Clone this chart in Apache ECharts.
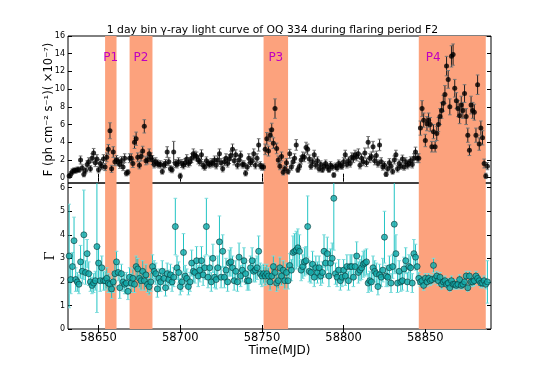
<!DOCTYPE html>
<html>
<head>
<meta charset="utf-8">
<script src="https://cdn.jsdelivr.net/npm/echarts@6/dist/echarts.min.js"></script>
<style>html,body{margin:0;padding:0;background:#fff}#chart{width:545px;height:366px}</style>
</head>
<body>
<div id="chart"></div>
<script>
// daily bins, MJD
var mjd = [
  58632,58633,58634,58635,58636,58637,58638,58639,58640,58641,
  58642,58643,58644,58645,58646,58647,58648,58649,58650,58651,
  58652,58653,58654,58655,58656,58657,58658,58659,58660,58661,
  58662,58663,58664,58665,58666,58667,58668,58669,58670,58671,
  58672,58673,58674,58675,58676,58677,58678,58679,58680,58681,
  58682,58683,58684,58685,58686,58687,58688,58689,58690,58691,
  58692,58693,58694,58695,58696,58697,58698,58699,58700,58701,
  58702,58703,58704,58705,58706,58707,58708,58709,58710,58711,
  58712,58713,58714,58715,58716,58717,58718,58719,58720,58721,
  58722,58723,58724,58725,58726,58727,58728,58729,58730,58731,
  58732,58733,58734,58735,58736,58737,58738,58739,58740,58741,
  58742,58743,58744,58745,58746,58747,58748,58749,58750,58751,
  58752,58753,58754,58755,58756,58757,58758,58759,58760,58761,
  58762,58763,58764,58765,58766,58767,58768,58769,58770,58771,
  58772,58773,58774,58775,58776,58777,58778,58779,58780,58781,
  58782,58783,58784,58785,58786,58787,58788,58789,58790,58791,
  58792,58793,58794,58795,58796,58797,58798,58799,58800,58801,
  58802,58803,58804,58805,58806,58807,58808,58809,58810,58811,
  58812,58813,58814,58815,58816,58817,58818,58819,58820,58821,
  58822,58823,58824,58825,58826,58827,58828,58829,58830,58831,
  58832,58833,58834,58835,58836,58837,58838,58839,58840,58841,
  58842,58843,58844,58845,58846,58847,58848,58849,58850,58851,
  58852,58853,58854,58855,58856,58857,58858,58859,58860,58861,
  58862,58863,58864,58865,58866,58867,58868,58869,58870,58871,
  58872,58873,58874,58875,58876,58877,58878,58879,58880,58881,
  58882,58883,58884,58885,58886,58887,58888
];

// flux, 1e-7 ph cm^-2 s^-1
var flux = [
  0.2,0.4,0.7,0.8,0.8,0.9,0.9,2.0,1.1,0.4,0.8,1.5,1.8,1.0,2.2,2.8,1.7,2.1,0.9,1.6,1.3,2.1,
  1.2,2.3,3.2,5.3,1.0,2.9,1.8,2.0,1.8,1.5,1.9,1.2,2.2,0.5,0.6,
  2.2,2.2,1.6,4.0,4.4,2.3,1.4,2.4,3.0,5.8,1.9,2.0,2.7,2.3,2.0,
  1.5,1.8,1.6,1.5,1.5,0.7,1.4,1.6,2.9,1.8,1.0,0.9,2.9,1.6,1.5,1.8,0.2,
  1.6,1.4,1.7,2.1,1.6,1.8,2.2,2.7,2.5,2.4,2.0,1.8,2.6,1.4,1.2,1.9,1.6,1.5,1.7,1.6,
  2.0,1.4,2.0,2.7,1.7,1.0,1.8,2.2,1.6,2.1,2.5,3.2,1.9,2.6,1.4,2.0,2.5,1.5,1.5,0.5,
  1.2,2.2,1.7,1.9,2.7,1.4,2.2,3.7,1.4,1.2,
  1.2,3.2,4.4,3.0,4.8,5.4,3.9,7.8,3.3,2.0,1.3,2.4,0.6,1.0,1.7,0.7,
  2.7,1.2,1.8,2.2,3.7,0.9,1.3,2.0,2.4,2.3,3.4,3.2,2.1,1.3,1.8,2.6,1.4,1.9,1.0,1.5,
  0.9,1.3,1.6,1.2,0.9,1.4,1.2,0.3,
  1.3,1.1,1.6,1.4,1.3,1.8,2.6,1.5,1.9,1.6,2.3,2.2,2.6,2.4,2.7,1.4,2.2,1.8,2.8,1.7,4.0,
  2.2,2.4,3.5,1.9,2.5,1.6,3.7,1.8,1.2,1.4,0.4,1.0,1.7,1.3,0.7,2.0,2.6,1.0,1.6,1.3,
  2.1,1.2,1.8,1.4,1.6,1.9,1.5,2.2,2.9,2.2,
  2.2,5.6,7.8,6.5,4.2,6.1,6.5,6.0,3.5,5.2,3.5,5.0,6.0,6.9,7.6,8.4,9.4,12.6,11.1,8.0,
  13.7,13.9,10.1,8.7,7.8,7.0,8.2,7.6,9.5,6.9,4.8,3.1,8.2,7.6,7.4,4.8,10.5,3.8,5.6,4.5,
  1.6,0.2,1.3
];
var fluxErr = [
  0.25,0.3,0.3,0.3,0.3,0.3,0.3,0.45,0.35,0.3,0.3,0.4,0.45,0.35,0.5,0.5,0.45,0.5,0.35,0.45,0.4,0.5,
  0.4,0.5,0.55,0.9,0.4,0.6,0.45,0.5,0.45,0.45,0.5,0.4,0.5,0.3,0.3,
  0.5,0.5,0.45,0.7,0.75,0.5,0.4,0.5,0.55,0.75,0.45,0.45,0.55,0.5,0.5,
  0.4,0.45,0.4,0.4,0.4,0.3,0.4,0.45,0.6,0.45,0.35,0.35,1.2,0.45,0.4,0.45,0.3,
  0.45,0.4,0.45,0.5,0.4,0.45,0.5,0.55,0.5,0.5,0.45,0.45,0.55,0.4,0.35,0.45,0.4,0.4,0.45,0.4,
  0.45,0.4,0.45,0.55,0.45,0.35,0.45,0.5,0.4,0.5,0.5,0.6,0.45,0.55,0.4,0.5,0.5,0.4,0.4,0.3,
  0.35,0.5,0.45,0.45,0.55,0.4,0.5,0.7,0.4,0.35,
  0.35,0.6,0.7,0.55,0.7,0.75,0.6,1.1,0.6,0.45,0.4,0.5,0.3,0.35,0.45,0.3,
  0.5,0.35,0.45,0.5,0.6,0.3,0.35,0.45,0.5,0.5,0.6,0.6,0.45,0.35,0.45,0.5,0.4,0.45,0.35,0.4,
  0.3,0.35,0.4,0.35,0.3,0.4,0.35,0.25,
  0.35,0.35,0.4,0.4,0.35,0.45,0.5,0.4,0.45,0.4,0.5,0.5,0.5,0.5,0.55,0.4,0.5,0.45,0.55,0.45,0.65,
  0.5,0.5,0.6,0.45,0.5,0.4,0.65,0.45,0.35,0.4,0.25,0.35,0.45,0.4,0.3,0.45,0.5,0.35,0.4,0.35,
  0.45,0.35,0.45,0.4,0.4,0.45,0.4,0.5,0.55,0.5,
  0.5,0.8,0.9,0.8,0.7,0.8,0.8,0.8,0.6,0.8,0.6,0.8,0.8,0.9,0.9,0.9,1.0,1.1,1.0,0.9,
  1.2,1.2,1.0,0.9,0.9,0.9,1.0,0.9,1.0,0.9,0.8,0.6,1.0,0.9,0.9,0.8,1.1,0.7,0.8,0.8,
  0.5,0.3,0.4
];

// photon index
var gamma = [
  3.1,2.1,2.65,3.75,2.1,2.0,1.9,2.85,2.45,4.0,2.4,3.2,2.35,2.0,1.85,1.95,2.05,3.5,2.8,2.05,2.6,2.05,
  2.05,2.15,1.95,1.9,1.7,2.0,2.35,2.85,2.4,1.75,2.35,2.0,1.9,1.95,1.6,
  2.2,1.95,2.15,1.9,2.65,2.55,2.15,2.05,2.45,2.05,2.3,1.9,1.8,2.0,2.65,
  2.45,2.35,1.7,2.15,2.0,2.45,2.15,1.75,2.35,2.1,2.3,2.0,2.2,4.35,2.6,2.4,1.8,2.0,3.25,2.25,
  2.15,1.8,2.0,2.8,2.45,2.4,2.9,2.25,
  2.5,2.9,2.3,2.6,4.35,2.2,2.6,2.0,3.0,2.2,2.1,2.6,3.7,2.2,3.3,2.2,2.5,2.0,2.8,2.85,
  2.6,2.05,2.45,2.0,3.05,2.25,2.5,2.9,2.35,2.05,2.05,2.6,2.9,2.45,2.5,2.6,3.3,2.35,2.25,
  2.35,2.25,2.35,2.25,2.0,2.25,2.65,2.4,1.95,2.05,2.6,2.25,2.5,2.05,2.4,2.05,
  2.7,2.5,3.25,3.3,3.35,3.45,3.3,2.5,2.65,2.85,2.9,4.35,2.45,2.4,2.75,2.2,2.6,2.4,2.6,2.25,
  2.4,3.3,2.8,3.2,2.25,2.8,3.0,5.55,2.35,2.2,2.5,
  2.05,2.2,2.5,2.25,2.65,2.05,2.65,2.65,2.2,2.65,3.1,2.4,2.5,2.6,2.75,2.8,2.85,1.95,2.05,2.0,
  2.6,2.45,2.35,1.8,2.3,2.2,2.5,3.9,2.25,2.2,2.6,1.95,2.65,4.45,3.2,1.95,2.45,2.0,2.05,2.55,
  2.9,2.0,2.65,2.6,1.95,3.2,3.05,2.65,
  2.15,2.0,2.05,1.85,2.15,2.0,2.15,2.05,2.1,2.7,2.15,2.25,2.05,2.2,1.9,2.0,2.05,1.9,1.95,1.75,
  2.05,1.9,1.9,1.85,1.9,2.1,1.85,1.9,2.0,2.25,1.75,2.25,2.0,2.0,2.05,2.25,2.15,2.05,1.95,1.95,
  2.05,1.9,2.0
];
var gammaErr = [
  2.2,0.6,0.6,1.0,0.5,0.4,0.4,0.7,0.5,1.9,0.5,0.6,0.5,0.4,0.35,0.4,0.4,2.8,0.7,0.45,0.5,0.4,
  0.4,0.45,0.4,0.35,0.4,0.45,0.55,0.45,0.35,0.45,0.4,0.4,0.4,0.45,0.35,
  0.4,0.4,0.4,0.35,0.45,0.45,0.4,0.4,0.45,0.4,0.45,0.35,0.35,0.4,0.5,
  0.45,0.45,0.35,0.4,0.4,0.45,0.4,0.35,0.45,0.4,0.45,0.4,0.4,1.2,0.5,0.45,0.35,0.4,0.8,0.45,
  0.4,0.35,0.4,0.55,0.45,0.45,0.6,0.45,
  0.5,0.6,0.45,0.5,1.2,0.45,0.5,0.4,0.6,0.45,0.4,0.5,1.1,0.45,0.7,0.45,0.5,0.4,0.55,0.6,
  0.5,0.4,0.45,0.4,0.6,0.45,0.5,0.55,0.45,0.4,0.4,0.5,0.55,0.45,0.5,0.5,0.65,0.45,0.45,
  0.4,0.4,0.4,0.35,0.35,0.4,0.45,0.4,0.35,0.35,0.45,0.4,0.4,0.35,0.4,0.35,
  0.5,0.45,0.7,0.75,0.8,0.8,0.7,0.45,0.5,0.6,0.6,1.3,0.45,0.45,0.55,0.4,0.5,0.45,0.5,0.4,
  0.45,0.7,0.6,0.7,0.45,0.6,0.65,2.2,0.45,0.4,0.45,
  0.4,0.4,0.45,0.4,0.5,0.4,0.5,0.5,0.4,0.5,0.6,0.45,0.45,0.5,0.55,0.55,0.55,0.4,0.4,0.4,
  0.5,0.45,0.45,0.35,0.45,0.4,0.5,1.1,0.45,0.4,0.5,0.4,0.5,2.1,0.8,0.4,0.45,0.4,0.4,0.5,
  0.55,0.4,0.5,0.5,0.4,0.6,0.55,0.45,
  0.25,0.2,0.2,0.2,0.2,0.2,0.2,0.2,0.2,0.3,0.2,0.2,0.2,0.2,0.2,0.2,0.2,0.2,0.2,0.15,
  0.2,0.2,0.2,0.15,0.2,0.2,0.15,0.2,0.2,0.2,0.15,0.2,0.2,0.2,0.2,0.2,0.2,0.2,0.2,0.2,
  0.2,0.2,0.9
];

var periods = [['P1', 58654, 58661], ['P2', 58669, 58683], ['P3', 58751, 58766], ['P4', 58846, 58887]];
var xTicks = [58650, 58700, 58750, 58800, 58850];
var fluxTicks = [0, 2, 4, 6, 8, 10, 12, 14, 16];
var gammaTicks = [0, 1, 2, 3, 4, 5, 6];

var xMin = 58631.3, xMax = 58890.2;
var font = 'DejaVu Sans';

function pts(vals) {
    return mjd.map(function (t, i) { return [t, vals[i]]; });
}

function errorBars(vals, errs, xi, yi, color, capColor) {
    return {
        type: 'custom',
        xAxisIndex: xi,
        yAxisIndex: yi,
        z: 3,
        clip: true,
        silent: true,
        encode: { x: 0, y: [1, 2] },
        data: mjd.map(function (t, i) { return [t, vals[i] - errs[i], vals[i] + errs[i]]; }),
        renderItem: function (params, api) {
            var lo = api.coord([api.value(0), api.value(1)]);
            var hi = api.coord([api.value(0), api.value(2)]);
            var w = 1.8;
            return {
                type: 'group',
                children: [
                    { type: 'line', shape: { x1: lo[0], y1: lo[1], x2: hi[0], y2: hi[1] }, style: { stroke: color, lineWidth: 1 } },
                    { type: 'line', shape: { x1: lo[0] - w, y1: lo[1], x2: lo[0] + w, y2: lo[1] }, style: { stroke: capColor, lineWidth: 1 } },
                    { type: 'line', shape: { x1: hi[0] - w, y1: hi[1], x2: hi[0] + w, y2: hi[1] }, style: { stroke: capColor, lineWidth: 1 } }
                ]
            };
        }
    };
}

function shading(xi, yi, withLabels) {
    return {
        type: 'scatter',
        xAxisIndex: xi,
        yAxisIndex: yi,
        z: 1,
        data: [],
        markArea: {
            silent: true,
            itemStyle: { color: '#FCA27D' },
            data: periods.map(function (p) {
                var lab = { show: false };
                if (withLabels) {
                    lab = {
                        show: true, color: '#c000c0', fontSize: 12, fontFamily: font,
                        position: p[0] === 'P4' ? [7, 16] : 'insideTop', distance: 16
                    };
                }
                return [{ xAxis: p[1], name: p[0], label: lab }, { xAxis: p[2] }];
            })
        }
    };
}

function xAxis(gi, pos, labels) {
    return {
        type: 'value', gridIndex: gi, position: pos, min: xMin, max: xMax,
        axisLine: { show: false },
        axisTick: { inside: true, length: 4, customValues: xTicks, lineStyle: { color: '#000' } },
        axisLabel: labels ? {
            customValues: xTicks, color: '#000', fontSize: 11.5, fontFamily: font, margin: 3,
            formatter: function (v) { return String(v); }
        } : { show: false },
        splitLine: { show: false }
    };
}

function yAxis(gi, pos, min, max, ticks, labels) {
    return {
        type: 'value', gridIndex: gi, position: pos, min: min, max: max,
        axisLine: { show: false },
        axisTick: { inside: true, length: 4, customValues: ticks, lineStyle: { color: '#000' } },
        axisLabel: labels ? { customValues: ticks, color: '#000', fontSize: 8, fontFamily: font, margin: 3 } : { show: false },
        splitLine: { show: false }
    };
}

var chart = echarts.init(document.getElementById('chart'));

var topY = yAxis(0, 'left', -0.6, 16, fluxTicks, true);
topY.name = 'F (ph cm\u207B\u00B2 s\u207B\u00B9)( \u00D710\u207B\u2077)';
topY.nameLocation = 'middle';
topY.nameGap = 13;
topY.nameMoveOverlap = false;
topY.nameTextStyle = { color: '#000', fontSize: 11.5, fontFamily: font };

var botY = yAxis(1, 'left', 0, 6.2, gammaTicks, true);
botY.name = '\u0393';
botY.nameLocation = 'middle';
botY.nameGap = 11;
botY.nameRotate = 90;
botY.nameMoveOverlap = false;
botY.nameTextStyle = { color: '#000', fontSize: 13, fontFamily: 'DejaVu Serif' };

var botX = xAxis(1, 'bottom', true);
botX.name = 'Time(MJD)';
botX.nameLocation = 'middle';
botX.nameGap = 15;
botX.nameTextStyle = { color: '#000', fontSize: 12, fontFamily: font, verticalAlign: 'top' };

var option = {
    animation: false,
    backgroundColor: '#fff',
    title: {
        text: '1 day bin \u03B3-ray light curve of OQ 334 during flaring period F2',
        left: 'center',
        top: 20,
        textStyle: { color: '#000', fontSize: 10.8, fontWeight: 'normal', fontFamily: font }
    },
    grid: [
        { left: 68, right: 54, top: 36, height: 147, show: true, borderColor: '#000', borderWidth: 1, backgroundColor: 'transparent' },
        { left: 68, right: 54, top: 183, height: 146, show: true, borderColor: '#000', borderWidth: 1, backgroundColor: 'transparent' }
    ],
    xAxis: [
        xAxis(0, 'bottom', false),
        xAxis(0, 'top', false),
        botX,
        xAxis(1, 'top', false)
    ],
    yAxis: [
        topY,
        yAxis(0, 'right', -0.6, 16, fluxTicks, false),
        botY,
        yAxis(1, 'right', 0, 6.2, gammaTicks, false)
    ],
    series: [
        shading(0, 0, true),
        shading(2, 2, false),
        errorBars(flux, fluxErr, 0, 0, '#222', '#777'),
        {
            type: 'scatter', xAxisIndex: 0, yAxisIndex: 0, z: 4, silent: true,
            symbol: 'circle', symbolSize: 5,
            itemStyle: { color: '#000' },
            data: pts(flux)
        },
        errorBars(gamma, gammaErr, 2, 2, '#22c4c4', '#7fdcdc'),
        {
            type: 'scatter', xAxisIndex: 2, yAxisIndex: 2, z: 4, silent: true,
            symbol: 'circle', symbolSize: 6,
            itemStyle: { color: '#13a9a9', borderColor: '#0b3a3a', borderWidth: 0.8 },
            data: pts(gamma)
        }
    ]
};

option && chart.setOption(option);
</script>
</body>
</html>
